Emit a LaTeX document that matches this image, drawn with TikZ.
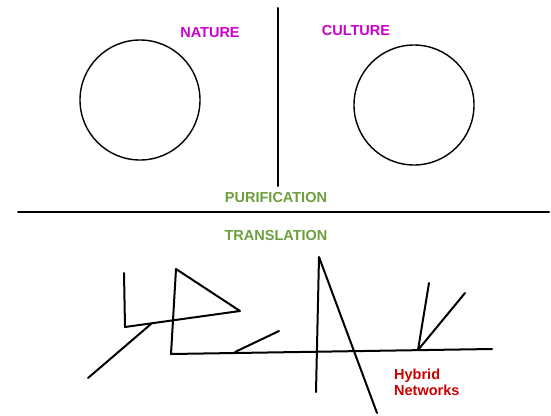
\documentclass[tikz,border=0pt]{standalone}
\usepackage{fontspec}
\setmainfont{Liberation Sans}
\definecolor{natmag}{HTML}{CC00CC}
\definecolor{purgreen}{HTML}{6B9F3B}
\definecolor{hybred}{HTML}{CC0000}
\tikzset{
  lbl/.style={font=\fontsize{14.5}{16}\selectfont\bfseries, inner sep=0pt},
  ring/.style={draw, circle, line width=1.4pt, minimum size=120pt, inner sep=0pt},
  pen/.style={line width=2pt, line cap=round, line join=round}
}
\begin{document}
\begin{tikzpicture}[x=1pt,y=-1pt]
\useasboundingbox (0,0) rectangle (551,415);
\node[ring] (nat) at (140,100) {};
\node[ring] (cul) at (414,105) {};
\node[lbl, text=natmag] (natl) at (210,33) {NATURE};
\node[lbl, text=natmag] (cull) at (356,31) {CULTURE};
\node[lbl, text=purgreen] (pur) at (276,198) {PURIFICATION};
\node[lbl, text=purgreen] (tra) at (276,236) {TRANSLATION};
\node[lbl, text=hybred, align=left, anchor=north west] (hyb) at (394,369) {Hybrid\\Networks};
\coordinate (vt) at (278,8);
\coordinate (vb) at (278,186);
\coordinate (hl) at (18,212);
\coordinate (hr) at (549,212);
\draw[pen] (vt) -- (vb);
\draw[pen] (hl) -- (hr);
% hybrids
\coordinate (ltop) at (124,273);
\coordinate (lcor) at (125,327);
\coordinate (tri) at (240,311);
\coordinate (ttop) at (176,269);
\coordinate (tbot) at (171,354);
\coordinate (bend) at (492,349);
\coordinate (dtop) at (151,324);
\coordinate (dbot) at (88,378);
\coordinate (sl) at (235,352);
\coordinate (sr) at (279,331);
\coordinate (sptop) at (319,257);
\coordinate (spbot) at (316,392);
\coordinate (spend) at (377,413);
\coordinate (fork) at (418,350);
\coordinate (fa) at (429,283);
\coordinate (fb) at (465,293);
\draw[pen] (ltop) -- (lcor) -- (tri) -- (ttop) -- (tbot) -- (bend);
\draw[pen] (dtop) -- (dbot);
\draw[pen] (sl) -- (sr);
\draw[pen] (spbot) -- (sptop) -- (spend);
\draw[pen] (fa) -- (fork) -- (fb);
\end{tikzpicture}
\end{document}
